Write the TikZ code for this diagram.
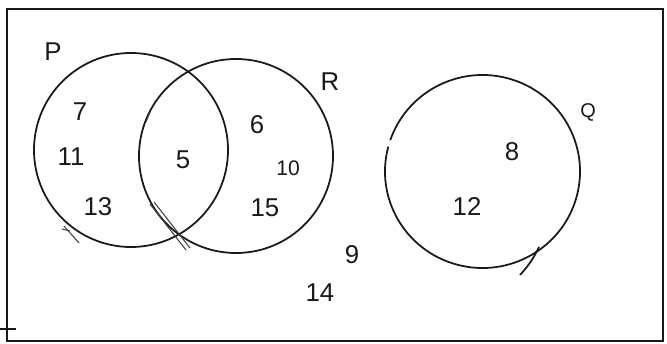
\documentclass[tikz,border=0pt]{standalone}
\usepackage{fontspec}
\setmainfont{Liberation Sans}
\usepackage{tikz}

\begin{document}
\begin{tikzpicture}[
    x=0.03cm, y=-0.03cm,
    font=\fontsize{22}{26}\selectfont,
    setline/.style={draw=black!90,line width=1.5pt},
    frameline/.style={draw=black!90,line width=2pt},
    setcircle/.style={setline,circle,minimum size=5.82cm,inner sep=0pt},
    setlabel/.style={inner sep=0pt,text=black!90},
    member/.style={inner sep=0pt,text=black!90},
    penmark/.style={draw=black!75,line width=0.9pt}
  ]
    \useasboundingbox (0,0) rectangle (667,344);

    % frame of the universal set
    \draw[frameline] (7,9) rectangle (663,341);
    \draw[frameline,line width=1.4pt] (0,329) -- (16,329);

    % the three sets
    \node[setcircle] (setP) at (131,150) {};
    \node[setcircle] (setR) at (236,156) {};
    \coordinate (centreQ) at (482.5,171.5);
    \draw[setline] (centreQ) ++(165:2.925cm and 2.895cm)
      arc[start angle=165,end angle=521,x radius=2.925cm,y radius=2.895cm];
    \draw[setline] (539,247) to[bend left=8] (520,275);

    % pen strokes
    \draw[penmark] (64,226) -- (79,243);
    \draw[penmark] (62,229) -- (70,231);
    \draw[penmark] (150,204) -- (186,250);
    \draw[penmark] (154,202) -- (190,248);
    \draw[penmark] (146,122) -- (150,112);

    \node[setlabel] (labelP) at (53,52) {P};
    \node[setlabel] (labelR) at (330,82) {R};
    \node[setlabel,font=\fontsize{17}{20}\selectfont] (labelQ) at (588,112) {Q};

    \node[member] (m7) at (80,112) {7};
    \node[member] (m11) at (71,157) {11};
    \node[member] (m13) at (98,207) {13};
    \node[member] (m5) at (183,160) {5};
    \node[member] (m6) at (257,125) {6};
    \node[member,font=\fontsize{18}{21}\selectfont] (m10) at (288,168) {10};
    \node[member] (m15) at (265,208) {15};
    \node[member] (m9) at (352,255) {9};
    \node[member] (m14) at (320,293) {14};
    \node[member] (m8) at (512,152) {8};
    \node[member] (m12) at (467,207) {12};
  \end{tikzpicture}
\end{document}
